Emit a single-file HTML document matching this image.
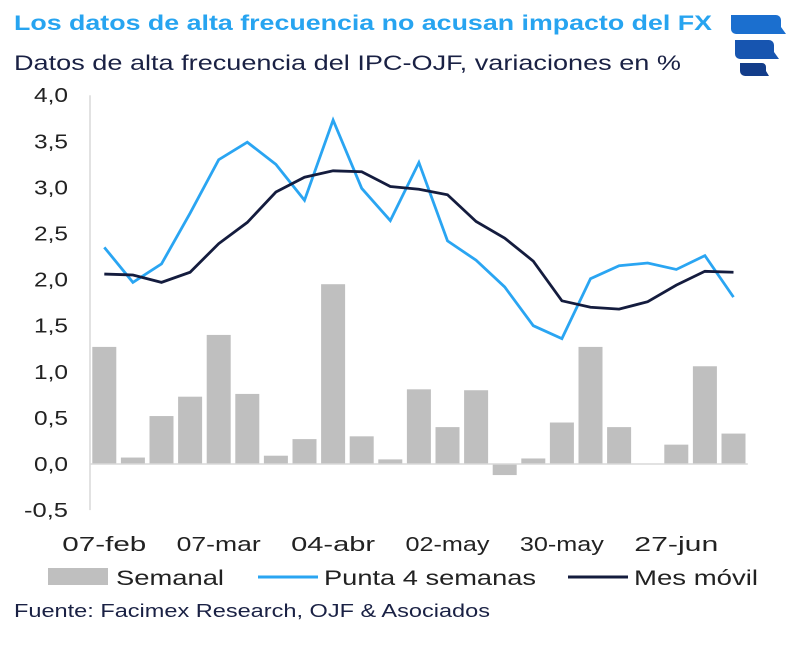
<!DOCTYPE html>
<html><head><meta charset="utf-8"><style>
body{margin:0;background:#fff;width:800px;height:643px;overflow:hidden;font-family:"Liberation Sans",sans-serif}
</style></head><body>
<svg id="c" width="800" height="643" xmlns="http://www.w3.org/2000/svg">
<text x="14" y="30" font-size="21" font-weight="bold" fill="#27a4f0" textLength="698" lengthAdjust="spacingAndGlyphs">Los datos de alta frecuencia no acusan impacto del FX</text>
<text x="14" y="70" font-size="21" fill="#1a2144" textLength="667" lengthAdjust="spacingAndGlyphs">Datos de alta frecuencia del IPC-OJF, variaciones en %</text>
<g>
<path d="M731 15 h45 a5 5 0 0 1 5 5 v7 l5 7 h-50 a5 5 0 0 1 -5 -5 v-9 z" fill="#1b6fcf"/>
<path d="M735 40 h34 a5 5 0 0 1 5 5 v7 l5 7 h-39 a5 5 0 0 1 -5 -5 v-9 z" fill="#1755b0"/>
<path d="M740 63 h22 a4 4 0 0 1 4 4 v4 l3 5 h-24 a5 5 0 0 1 -5 -5 v-5 z" fill="#133d8a"/>
</g>
<g id="plot"></g>
<g>
<rect x="48" y="568" width="60" height="17" fill="#bfbfbf"/>
<text x="116" y="585" font-size="21" fill="#222" textLength="108" lengthAdjust="spacingAndGlyphs">Semanal</text>
<line x1="258" y1="577" x2="318" y2="577" stroke="#2aa5f2" stroke-width="3"/>
<text x="324" y="585" font-size="21" fill="#222" textLength="212" lengthAdjust="spacingAndGlyphs">Punta 4 semanas</text>
<line x1="568" y1="577" x2="628" y2="577" stroke="#141c3e" stroke-width="3"/>
<text x="634" y="585" font-size="21" fill="#222" textLength="124" lengthAdjust="spacingAndGlyphs">Mes móvil</text>
</g>
<text x="14" y="617" font-size="18" fill="#1a2144" textLength="476" lengthAdjust="spacingAndGlyphs">Fuente: Facimex Research, OJF &amp; Asociados</text>
</svg>
<script>
const semanal=[1.27,0.07,0.52,0.73,1.40,0.76,0.09,0.27,1.95,0.30,0.05,0.81,0.40,0.80,-0.12,0.06,0.45,1.27,0.40,0.00,0.21,1.06,0.33];
const punta=[2.35,1.97,2.17,2.72,3.30,3.49,3.25,2.86,3.73,2.99,2.64,3.27,2.42,2.21,1.92,1.50,1.36,2.01,2.15,2.18,2.11,2.26,1.81];
const mes=[2.06,2.05,1.97,2.08,2.39,2.62,2.95,3.11,3.18,3.17,3.01,2.98,2.92,2.63,2.45,2.20,1.77,1.70,1.68,1.76,1.94,2.09,2.08];
const yTicks=[-0.5,0,0.5,1,1.5,2,2.5,3,3.5,4];
const xLabels=[[0,"07-feb"],[4,"07-mar"],[8,"04-abr"],[12,"02-may"],[16,"30-may"],[20,"27-jun"]];
const NS="http://www.w3.org/2000/svg";
const g=document.getElementById('plot');
const x0=90,step=28.6;
const X=i=>x0+step*(i+0.5);
const Y=v=>464-v*92.2;
function mk(t,a){const e=document.createElementNS(NS,t);for(const k in a)e.setAttribute(k,a[k]);g.appendChild(e);return e;}
yTicks.forEach(v=>{const s=v.toFixed(1).replace('.',',');const t=mk('text',{x:68,y:Y(v)+7,'font-size':20,'text-anchor':'end',fill:'#222',textLength:s.length>3?44:34,lengthAdjust:'spacingAndGlyphs'});t.textContent=s;

});
semanal.forEach((v,i)=>{const r=mk('rect',{x:X(i)-12,y:Math.min(Y(v),Y(0)),width:24,height:Math.abs(Y(v)-Y(0)),fill:'#bfbfbf'});

});
const ax=mk('line',{x1:x0,y1:Y(0),x2:x0+step*semanal.length,y2:Y(0),stroke:'#d9d9d9','stroke-width':1.5});


const ay=mk('line',{x1:x0,y1:Y(4),x2:x0,y2:Y(-0.5),stroke:'#d9d9d9','stroke-width':1.5});


const l1=mk('polyline',{points:punta.map((v,i)=>X(i)+','+Y(v)).join(' '),fill:'none',stroke:'#2aa5f2','stroke-width':2.8});


const l2=mk('polyline',{points:mes.map((v,i)=>X(i)+','+Y(v)).join(' '),fill:'none',stroke:'#141c3e','stroke-width':2.8});


xLabels.forEach(([i,s])=>{const t=mk('text',{x:X(i),y:551,'font-size':20,'text-anchor':'middle',fill:'#222',textLength:s.length>6?94:84,lengthAdjust:'spacingAndGlyphs'});t.textContent=s;

});
</script>
</body></html>
